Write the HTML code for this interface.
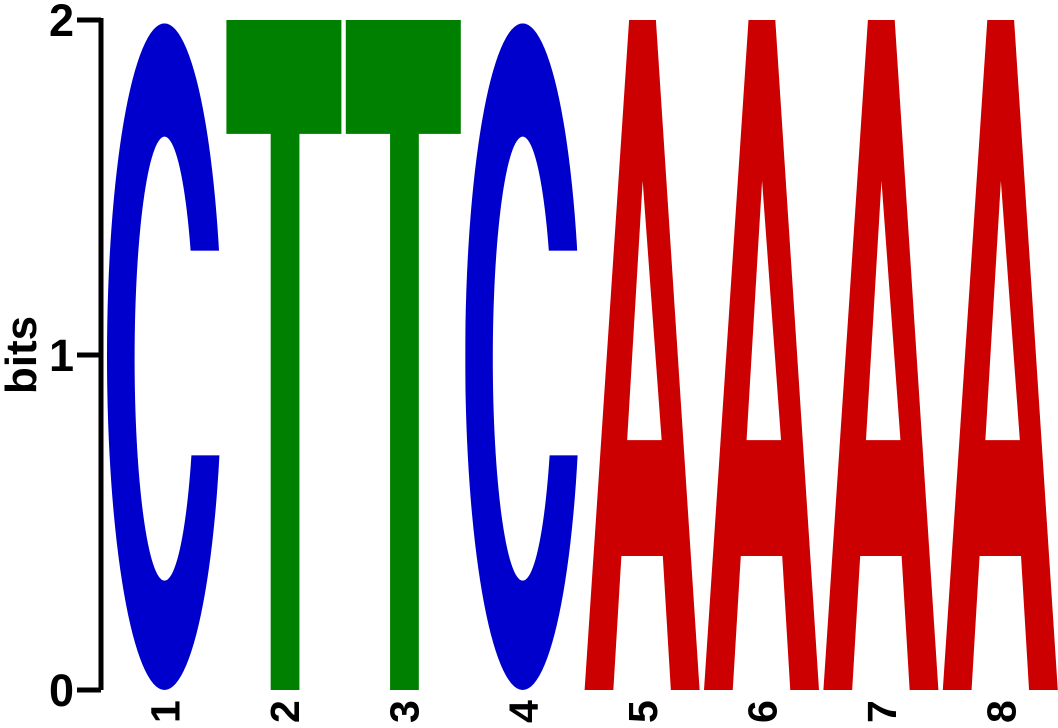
<!DOCTYPE html>
<html><head><meta charset="utf-8"><style>
html,body{margin:0;padding:0;background:#fff}
svg text{font-family:"Liberation Sans",sans-serif;font-weight:bold}
</style></head><body>
<svg id="logo" width="1058" height="723" viewBox="0 0 1058 723" xmlns="http://www.w3.org/2000/svg">
<g id="axis">
<line x1="101" y1="18" x2="101" y2="690" stroke="#000" stroke-width="5"/>
</g>
<text transform="translate(36,355) rotate(-90)" text-anchor="middle" font-size="44">bits</text>
<g id="marks"></g>
</svg>
<script>
const positions = ["1","2","3","4","5","6","7","8"];
const letters = ["C","T","T","C","A","A","A","A"];
const heights = [1.99,2,2,1.99,2,2,2,2];
const yTicks = [0,1,2];
const colors = {A:"#cc0000",C:"#0000cc",G:"#ffb300",T:"#008000"};
const NS="http://www.w3.org/2000/svg";
const svg=document.getElementById('logo');
const marks=document.getElementById('marks');
const axis=document.getElementById('axis');
const y0=690,y2=20;
function yScale(v){return y0-(y0-y2)*v/2;}
function xLeft(i){return 107+i*119.4;}
const W=115;
function mk(tag,attrs,parent){const e=document.createElementNS(NS,tag);for(const k in attrs)e.setAttribute(k,attrs[k]);parent.appendChild(e);return e;}
yTicks.forEach(t=>{
  const y=yScale(t);
  const l=mk('line',{x1:77,y1:y,x2:101,y2:y,stroke:'#000','stroke-width':5},axis);
  
  
  const tx=mk('text',{x:74,y:y+16,'text-anchor':'end','font-size':45},svg);
  tx.textContent=t;
  
  
});
positions.forEach((p,i)=>{
  const x=xLeft(i),top=yScale(heights[i]),h=y0-top,w=W,L=letters[i],c=colors[L];
  const g=mk('g',{},marks);
  
  
  if(L==='C'){
    const cx=x+w/2,cy=top+h/2;
    const id='m'+i;
    const m=mk('mask',{id:id},g);
    mk('ellipse',{cx:cx,cy:cy,rx:w/2,ry:h/2,fill:'#fff'},m);
    mk('ellipse',{cx:cx,cy:top+h*0.503,rx:w*0.26,ry:h*0.333,fill:'#000'},m);
    mk('rect',{x:cx+w*0.2,y:top+h*0.341,width:w,height:h*0.307,fill:'#000'},m);
    mk('rect',{x:x,y:top,width:w,height:h,fill:c,mask:'url(#'+id+')'},g);
  } else if(L==='T'){
    mk('rect',{x:x,y:top,width:w,height:h*0.17,fill:c},g);
    mk('rect',{x:x+w*0.385,y:top,width:w*0.25,height:h,fill:c},g);
  } else if(L==='A'){
    const pts=[[x,y0],[x+w*0.387,top],[x+w*0.62,top],[x+w,y0],[x+w*0.75,y0],[x+w*0.68,top+h*0.80],[x+w*0.32,top+h*0.80],[x+w*0.25,y0]];
    const hole=[[x+w*0.37,top+h*0.627],[x+w*0.505,top+h*0.24],[x+w*0.67,top+h*0.627]];
    const d='M'+pts.map(q=>q.join(',')).join('L')+'Z M'+hole.map(q=>q.join(',')).join('L')+'Z';
    mk('path',{d:d,fill:c,'fill-rule':'evenodd'},g);
  }
  const tx=mk('text',{transform:'translate('+(x+w/2+15)+',723) rotate(-90)','font-size':41},svg);
  tx.textContent=p;
  
  
});
</script>
</body></html>
